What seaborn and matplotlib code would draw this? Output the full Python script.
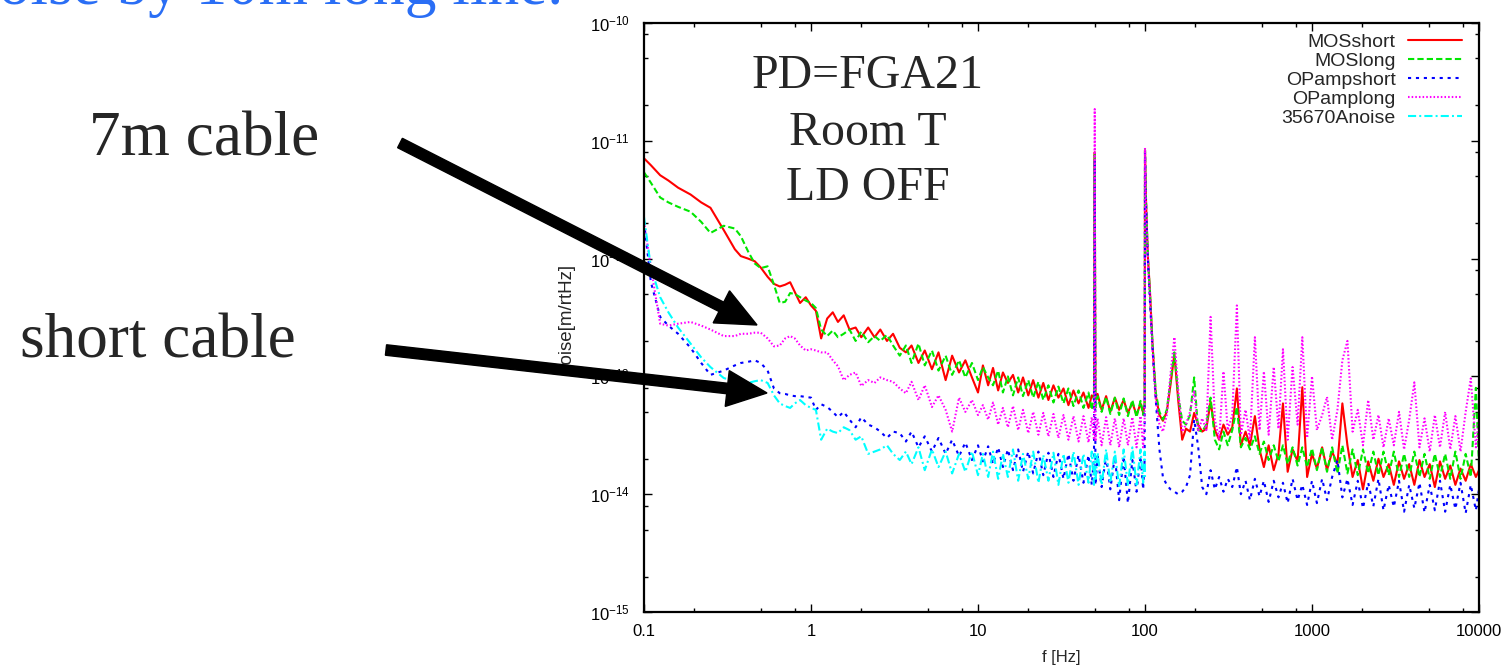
import numpy as np
import pandas as pd
import matplotlib
matplotlib.use('Agg')
import matplotlib.pyplot as plt
import matplotlib.ticker as ticker
import matplotlib.transforms as mtransforms
from matplotlib.patches import FancyArrow
import seaborn as sns

# frequency grid [Hz], split by decade so the lists stay readable
freq_low = [0.1, 0.11, 0.125, 0.14, 0.16, 0.19, 0.22, 0.25, 0.3, 0.35, 0.38, 0.42,
            0.46, 0.5, 0.55, 0.6, 0.65, 0.7, 0.75, 0.8, 0.86, 0.93, 1.0]
freq_mid = [1.07, 1.15, 1.25, 1.35, 1.45, 1.57, 1.7, 1.85, 2.0, 2.2, 2.4, 2.6, 2.85,
            3.1, 3.4, 3.7, 4.0, 4.4, 4.8, 5.3, 5.8, 6.4, 7.0, 7.7, 8.4, 9.2, 10]
freq_high = [10.7, 11.5, 12.3, 13.2, 14.1, 15.1, 16.2, 17.4, 18.6, 20, 21.4, 23, 24.6,
             26.4, 28.3, 30.3, 32.5, 34.8, 37.3, 40, 42.8, 45.9, 48, 49.5, 50, 50.5,
             52, 55, 58.5, 62, 66, 70, 74.5, 79, 84, 89, 94, 97.5, 99.5, 100, 101, 102.5]
freq_top = [104, 107, 111, 116, 122, 128, 135, 142, 150, 158, 167, 176, 186, 197, 208,
            220, 233, 247, 262, 278, 295, 313, 333, 355, 375, 400, 425, 455, 485, 515,
            550, 590, 630, 670, 715, 765, 820, 875, 935, 1000]
freq_khz = [1070, 1150, 1230, 1320, 1420, 1520, 1630, 1750, 1880, 2020, 2170, 2330,
            2500, 2680, 2880, 3090, 3320, 3560, 3820, 4100, 4400, 4720, 5070, 5440,
            5840, 6270, 6730, 7220, 7750, 8320, 8930, 9580, 10000]
freq = freq_low + freq_mid + freq_high + freq_top + freq_khz

# noise [m/rtHz]
mos_short = (
    [7.1e-12, 6.2e-12, 5.1e-12, 4.6e-12, 4.0e-12, 3.5e-12, 3.0e-12, 2.7e-12, 1.75e-12,
     1.2e-12, 1.05e-12, 1.0e-12, 9.5e-13, 8.4e-13, 7.0e-13, 6.1e-13, 5.8e-13, 6.0e-13,
     6.3e-13, 5.2e-13, 4.2e-13, 4.7e-13, 4.0e-13]
    + [3.6e-13, 2.1e-13, 3.1e-13, 3.5e-13, 2.9e-13, 3.3e-13, 2.5e-13, 2.6e-13, 2.15e-13,
       2.6e-13, 2.15e-13, 2.5e-13, 2.0e-13, 2.3e-13, 1.75e-13, 1.6e-13, 1.83e-13, 1.3e-13,
       1.66e-13, 1.15e-13, 1.6e-13, 9.3e-14, 1.5e-13, 1.08e-13, 1.37e-13, 9.8e-14, 7.3e-14]
    + [1.24e-13, 8.4e-14, 1.18e-13, 7.6e-14, 1.08e-13, 8.8e-14, 1.03e-13, 7.3e-14, 9.8e-14,
       6.9e-14, 9.3e-14, 6.6e-14, 8.8e-14, 6.3e-14, 8.4e-14, 6.6e-14, 7.9e-14, 5.7e-14,
       7.6e-14, 5.9e-14, 7.3e-14, 5.4e-14, 6.9e-14, 6.6e-14, 8.0e-12, 6.3e-14, 7.1e-14,
       5.2e-14, 6.8e-14, 5.0e-14, 6.6e-14, 5.2e-14, 6.3e-14, 4.9e-14, 6.0e-14, 4.7e-14,
       5.9e-14, 4.9e-14, 5.7e-14, 8.3e-12, 3.8e-12, 1.9e-12]
    + [1.05e-12, 5.4e-13, 1.83e-13, 6.9e-14, 4.7e-14, 4.2e-14, 5.0e-14, 8.4e-14, 1.55e-13,
       6.3e-14, 2.9e-14, 3.6e-14, 3.4e-14, 4.9e-14, 3.9e-14, 3.4e-14, 3.6e-14, 6.1e-14,
       3.5e-14, 2.9e-14, 3.9e-14, 3.2e-14, 3.7e-14, 7.9e-14, 2.6e-14, 3.4e-14, 2.6e-14,
       4.6e-14, 2.4e-14, 1.7e-14, 2.6e-14, 1.6e-14, 2.2e-14, 5.9e-14, 1.55e-14, 2.4e-14,
       1.9e-14, 8.1e-14, 1.4e-14, 2.2e-14]
    + [1.65e-14, 2.5e-14, 1.6e-14, 2.3e-14, 1.8e-14, 5.9e-14, 2.6e-14, 1.4e-14, 1.95e-14,
       1.1e-14, 1.9e-14, 1.3e-14, 2.0e-14, 1.4e-14, 1.8e-14, 1.2e-14, 1.9e-14, 1.35e-14,
       1.8e-14, 1.2e-14, 1.95e-14, 1.4e-14, 1.8e-14, 1.15e-14, 1.9e-14, 1.35e-14, 1.75e-14,
       1.2e-14, 1.65e-14, 1.3e-14, 1.8e-14, 1.4e-14, 1.6e-14]
)

mos_long = (
    [5.4e-12, 4.4e-12, 3.3e-12, 3.0e-12, 2.75e-12, 2.5e-12, 2.05e-12, 1.65e-12, 1.9e-12,
     1.8e-12, 1.55e-12, 1.15e-12, 9.1e-13, 8.3e-13, 8.6e-13, 6.0e-13, 4.2e-13, 4.3e-13,
     5.1e-13, 5.0e-13, 4.7e-13, 4.4e-13, 4.2e-13]
    + [3.8e-13, 2.5e-13, 2.2e-13, 2.45e-13, 2.15e-13, 2.3e-13, 2.5e-13, 2.0e-13, 2.4e-13,
       1.95e-13, 2.2e-13, 2.0e-13, 2.25e-13, 1.83e-13, 1.5e-13, 1.83e-13, 1.3e-13, 1.9e-13,
       1.24e-13, 1.66e-13, 1.12e-13, 1.5e-13, 1.03e-13, 1.37e-13, 9.8e-14, 1.3e-13, 9.3e-14]
    + [1.2e-13, 9.8e-14, 8.4e-14, 1.12e-13, 7.3e-14, 1.0e-13, 6.9e-14, 9.8e-14, 6.8e-14,
       9.3e-14, 6.6e-14, 9.0e-14, 6.3e-14, 8.4e-14, 6.0e-14, 8.2e-14, 5.9e-14, 7.9e-14,
       5.6e-14, 7.6e-14, 5.4e-14, 7.3e-14, 5.2e-14, 6.9e-14, 7.6e-12, 5.4e-14, 6.8e-14,
       5.0e-14, 6.7e-14, 4.8e-14, 6.6e-14, 4.7e-14, 6.5e-14, 4.6e-14, 6.3e-14, 4.5e-14,
       6.2e-14, 4.7e-14, 5.9e-14, 8.3e-12, 3.8e-12, 2.05e-12]
    + [1.05e-12, 5.2e-13, 1.83e-13, 7.3e-14, 5.0e-14, 4.3e-14, 5.2e-14, 9.0e-14, 1.6e-13,
       6.9e-14, 4.2e-14, 3.9e-14, 4.7e-14, 9.8e-14, 3.5e-14, 3.4e-14, 3.9e-14, 6.6e-14,
       2.9e-14, 2.4e-14, 3.4e-14, 2.6e-14, 3.5e-14, 5.5e-14, 2.5e-14, 3.0e-14, 2.4e-14,
       3.1e-14, 2.2e-14, 2.8e-14, 1.95e-14, 2.6e-14, 1.9e-14, 2.6e-14, 1.8e-14, 2.5e-14,
       1.75e-14, 2.5e-14, 1.7e-14, 2.45e-14]
    + [1.6e-14, 2.5e-14, 1.55e-14, 2.5e-14, 1.5e-14, 2.6e-14, 1.5e-14, 2.4e-14, 1.45e-14,
       2.4e-14, 1.5e-14, 2.3e-14, 1.45e-14, 2.3e-14, 1.45e-14, 2.3e-14, 1.4e-14, 2.2e-14,
       1.4e-14, 2.3e-14, 1.4e-14, 2.2e-14, 1.35e-14, 2.2e-14, 1.4e-14, 2.2e-14, 1.35e-14,
       2.3e-14, 1.35e-14, 2.2e-14, 1.4e-14, 8.0e-14, 1.8e-14]
)

opamp_short = (
    [2.05e-12, 6.3e-13, 3.2e-13, 2.7e-13, 2.3e-13, 1.75e-13, 1.3e-13, 1.03e-13, 1.12e-13,
     1.24e-13, 1.3e-13, 1.33e-13, 1.37e-13, 1.3e-13, 1.12e-13, 7.9e-14, 7.2e-14, 7.1e-14,
     6.9e-14, 6.8e-14, 6.8e-14, 6.7e-14, 6.6e-14]
    + [5.2e-14, 5.8e-14, 5.5e-14, 5.0e-14, 4.5e-14, 5.0e-14, 4.3e-14, 3.7e-14, 4.5e-14,
       3.9e-14, 3.7e-14, 3.4e-14, 3.0e-14, 3.4e-14, 3.3e-14, 2.8e-14, 3.4e-14, 2.5e-14,
       3.1e-14, 2.3e-14, 3.0e-14, 2.2e-14, 2.9e-14, 2.1e-14, 2.75e-14, 1.95e-14, 2.6e-14]
    + [1.9e-14, 2.55e-14, 1.8e-14, 2.5e-14, 1.7e-14, 2.4e-14, 1.6e-14, 2.4e-14, 1.55e-14,
       2.3e-14, 1.5e-14, 2.3e-14, 1.45e-14, 2.25e-14, 1.4e-14, 2.2e-14, 1.35e-14, 2.2e-14,
       1.3e-14, 2.15e-14, 1.25e-14, 2.15e-14, 1.2e-14, 2.1e-14, 6.9e-12, 1.2e-14, 2.1e-14,
       1.15e-14, 2.1e-14, 1.1e-14, 2.1e-14, 8.9e-15, 2.1e-14, 8.4e-15, 1.95e-14, 1.05e-14,
       2.1e-14, 1.1e-14, 1.95e-14, 8.0e-12, 3.5e-12, 1.75e-12]
    + [1.0e-12, 4.4e-13, 1.7e-13, 6.3e-14, 2.4e-14, 1.4e-14, 1.2e-14, 1.1e-14, 1.05e-14,
       1.0e-14, 1.05e-14, 1.15e-14, 1.45e-14, 4.3e-14, 2.55e-14, 1.15e-14, 1.0e-14, 1.6e-14,
       1.1e-14, 1.4e-14, 1.05e-14, 1.35e-14, 1.15e-14, 1.7e-14, 1.0e-14, 1.3e-14, 8.9e-15,
       1.35e-14, 9.6e-15, 1.3e-14, 8.6e-15, 1.3e-14, 9.4e-15, 1.25e-14, 8.4e-15, 1.35e-14,
       8.9e-15, 1.2e-14, 8.1e-15, 1.3e-14]
    + [8.4e-15, 1.35e-14, 8.9e-15, 1.4e-14, 1.95e-14, 9.4e-15, 1.35e-14, 8.1e-15, 1.3e-14,
       7.6e-15, 1.25e-14, 7.9e-15, 1.35e-14, 7.3e-15, 1.2e-14, 7.8e-15, 1.3e-14, 7.1e-15,
       1.2e-14, 7.6e-15, 1.25e-14, 7.0e-15, 1.2e-14, 7.3e-15, 1.3e-14, 7.1e-15, 1.2e-14,
       7.5e-15, 1.25e-14, 6.9e-15, 1.2e-14, 7.3e-15, 1.1e-14]
)

opamp_long = (
    [2.05e-12, 8.4e-13, 2.8e-13, 2.7e-13, 2.8e-13, 2.9e-13, 2.7e-13, 2.5e-13, 2.2e-13,
     2.2e-13, 2.3e-13, 2.3e-13, 2.35e-13, 2.35e-13, 2.1e-13, 1.8e-13, 1.83e-13, 2.1e-13,
     2.2e-13, 2.1e-13, 1.83e-13, 1.66e-13, 1.7e-13]
    + [1.66e-13, 1.6e-13, 1.6e-13, 1.37e-13, 1.22e-13, 9.3e-14, 1.03e-13, 1.08e-13, 8.3e-14,
       9.3e-14, 8.8e-14, 9.8e-14, 9.3e-14, 9.0e-14, 7.9e-14, 7.2e-14, 9.0e-14, 6.3e-14,
       8.4e-14, 5.5e-14, 6.9e-14, 5.2e-14, 3.4e-14, 6.6e-14, 5.0e-14, 6.3e-14, 4.7e-14]
    + [5.7e-14, 4.3e-14, 6.0e-14, 3.9e-14, 5.4e-14, 3.7e-14, 5.6e-14, 3.5e-14, 5.2e-14,
       3.3e-14, 5.0e-14, 3.2e-14, 4.9e-14, 3.1e-14, 4.8e-14, 3.0e-14, 4.7e-14, 2.9e-14,
       4.6e-14, 2.8e-14, 4.6e-14, 2.75e-14, 4.5e-14, 2.9e-14, 1.86e-11, 2.8e-14, 4.4e-14,
       2.6e-14, 4.5e-14, 2.6e-14, 4.4e-14, 2.5e-14, 4.4e-14, 2.6e-14, 4.5e-14, 2.5e-14,
       4.6e-14, 2.5e-14, 4.3e-14, 8.7e-12, 3.5e-12, 1.8e-12]
    + [1.0e-12, 4.9e-13, 1.66e-13, 6.3e-14, 3.9e-14, 3.4e-14, 4.7e-14, 1.03e-13, 2.15e-13,
       7.6e-14, 3.4e-14, 3.9e-14, 5.0e-14, 7.6e-14, 3.4e-14, 4.4e-14, 3.5e-14, 3.2e-13,
       4.3e-14, 2.9e-14, 1.1e-13, 3.5e-14, 4.7e-14, 4.0e-13, 3.2e-14, 5.2e-14, 2.9e-14,
       2.15e-13, 3.5e-14, 1.1e-13, 3.2e-14, 1.2e-13, 3.6e-14, 1.7e-13, 2.9e-14, 1.2e-13,
       3.9e-14, 2.15e-13, 3.0e-14, 1.0e-13]
    + [3.5e-14, 4.7e-14, 6.7e-14, 2.9e-14, 5.2e-14, 1.37e-13, 2.0e-13, 3.4e-14, 5.2e-14,
       2.6e-14, 6.3e-14, 2.9e-14, 4.7e-14, 2.5e-14, 4.4e-14, 2.6e-14, 5.0e-14, 2.4e-14,
       4.3e-14, 8.9e-14, 2.5e-14, 4.4e-14, 2.3e-14, 4.7e-14, 2.5e-14, 5.0e-14, 2.4e-14,
       4.6e-14, 2.3e-14, 5.0e-14, 9.6e-14, 2.5e-14, 4.3e-14]
)

# the 35670A analyser floor only goes up to 100 Hz
analyzer = (
    [2.25e-12, 8.4e-13, 4.7e-13, 3.5e-13, 2.6e-13, 1.9e-13, 1.45e-13, 1.2e-13, 9.7e-14,
     9.0e-14, 8.8e-14, 8.8e-14, 9.1e-14, 9.3e-14, 8.8e-14, 6.9e-14, 5.9e-14, 5.6e-14,
     5.4e-14, 5.9e-14, 6.3e-14, 5.7e-14, 5.4e-14]
    + [5.2e-14, 2.9e-14, 3.6e-14, 3.4e-14, 3.3e-14, 3.7e-14, 3.5e-14, 2.9e-14, 3.1e-14,
       2.2e-14, 2.3e-14, 2.4e-14, 2.6e-14, 2.2e-14, 1.95e-14, 2.3e-14, 1.8e-14, 2.5e-14,
       1.6e-14, 2.4e-14, 1.7e-14, 2.3e-14, 1.5e-14, 2.2e-14, 1.55e-14, 2.3e-14, 1.45e-14]
    + [2.2e-14, 1.4e-14, 2.3e-14, 1.35e-14, 2.2e-14, 1.4e-14, 2.4e-14, 1.3e-14, 2.2e-14,
       1.35e-14, 2.3e-14, 1.25e-14, 2.15e-14, 1.3e-14, 2.25e-14, 1.2e-14, 2.2e-14, 1.25e-14,
       2.3e-14, 1.2e-14, 2.2e-14, 1.25e-14, 2.3e-14, 1.2e-14, 2.2e-14, 1.3e-14, 2.25e-14,
       1.2e-14, 2.4e-14, 1.25e-14, 2.3e-14, 1.15e-14, 2.4e-14, 1.2e-14, 2.5e-14, 1.2e-14,
       2.4e-14, 1.25e-14, 2.3e-14, 1.4e-14]
)

series = [
    ('MOSshort', mos_short, '#ff0000', '-'),
    ('MOSlong', mos_long, '#00e600', (0, (3.0, 1.5))),
    ('OPampshort', opamp_short, '#0000ff', (0, (1.5, 2.3))),
    ('OPamplong', opamp_long, '#ff00ff', (0, (0.75, 1.0))),
    ('35670Anoise', analyzer, '#00ffff', (0, (3.9, 1.5, 0.95, 1.5))),
]

sns.set_style('ticks')
plt.rcParams['font.family'] = ['Liberation Sans', 'DejaVu Sans']
plt.rcParams['mathtext.default'] = 'regular'

fig = plt.figure(figsize=(15.06, 6.68), dpi=100)
ax = fig.add_axes([644 / 1506, 56 / 668, 835 / 1506, 589 / 668])

for name, vals, col, ls in series:
    df = pd.DataFrame({'f': freq[:len(vals)], 'noise': vals})
    sns.lineplot(data=df, x='f', y='noise', ax=ax, color=col, linestyle=ls, lw=1.5,
                 label=name, estimator=None, sort=False)

ax.set_xscale('log')
ax.set_yscale('log')
ax.set_xlim(0.1, 10000)
ax.set_ylim(1e-15, 1e-10)

ax.xaxis.set_major_locator(ticker.LogLocator(base=10, numticks=20))
ax.xaxis.set_minor_locator(ticker.LogLocator(base=10, subs=[2, 5, 8], numticks=20))
ax.xaxis.set_major_formatter(ticker.FuncFormatter(lambda v, p: f'{v:g}'))
ax.xaxis.set_minor_formatter(ticker.NullFormatter())
ax.yaxis.set_major_locator(ticker.LogLocator(base=10, numticks=20))
ax.yaxis.set_minor_locator(ticker.LogLocator(base=10, subs=[2, 5, 8], numticks=20))
ax.yaxis.set_minor_formatter(ticker.NullFormatter())

ax.tick_params(which='both', direction='in', top=True, right=True, colors='black')
ax.tick_params(which='major', length=6, width=1.0, labelsize=12)
ax.tick_params(which='minor', length=2.8, width=1.0)
ax.tick_params(axis='x', which='major', pad=8.5)
ax.tick_params(axis='y', which='major', pad=10)
for sp in ax.spines.values():
    sp.set_linewidth(1.6)
    sp.set_color('black')

ax.set_xlabel('f [Hz]', fontsize=12)
ax.set_ylabel('noise[m/rtHz]', fontsize=13.5)
ax.xaxis.set_label_coords(0.5, -0.064)
ax.yaxis.set_label_coords(-0.083, 0.5)

ax.legend(loc='upper right', bbox_to_anchor=(0.9796, 0.982), markerfirst=False,
          frameon=False, fontsize=14, handlelength=2.8, handletextpad=0.6,
          labelspacing=0.07, borderpad=0, borderaxespad=0)

# slide annotations
serif = ['Liberation Serif', 'DejaVu Serif']
fig.text(563 / 1506, 1 - 4 / 668, 'Noise by 10m long line.', ha='right', va='baseline',
         fontsize=45.5, family=serif, color='#2a6ef5')
fig.text(204 / 1506, 1 - 155 / 668, '7m cable', ha='center', va='baseline',
         fontsize=45.5, family=serif)
fig.text(158 / 1506, 1 - 358 / 668, 'short cable', ha='center', va='baseline',
         fontsize=45.5, family=serif)
for txt, base in [('PD=FGA21', 88), ('Room T', 145), ('LD OFF', 200)]:
    fig.text(868 / 1506, 1 - base / 668, txt, ha='center', va='baseline',
             fontsize=34.5, family=serif)

px = mtransforms.Affine2D().scale(1 / fig.dpi) + fig.dpi_scale_trans
for (x0, y0), (x1, y1) in [((400, 143), (757, 325)), ((386, 350), (767, 393))]:
    arr = FancyArrow(x0, 668 - y0, x1 - x0, y0 - y1, width=10.5, head_width=36,
                     head_length=40, length_includes_head=True, color='black',
                     transform=px)
    fig.add_artist(arr)

fig.savefig('out.png', dpi=100)
